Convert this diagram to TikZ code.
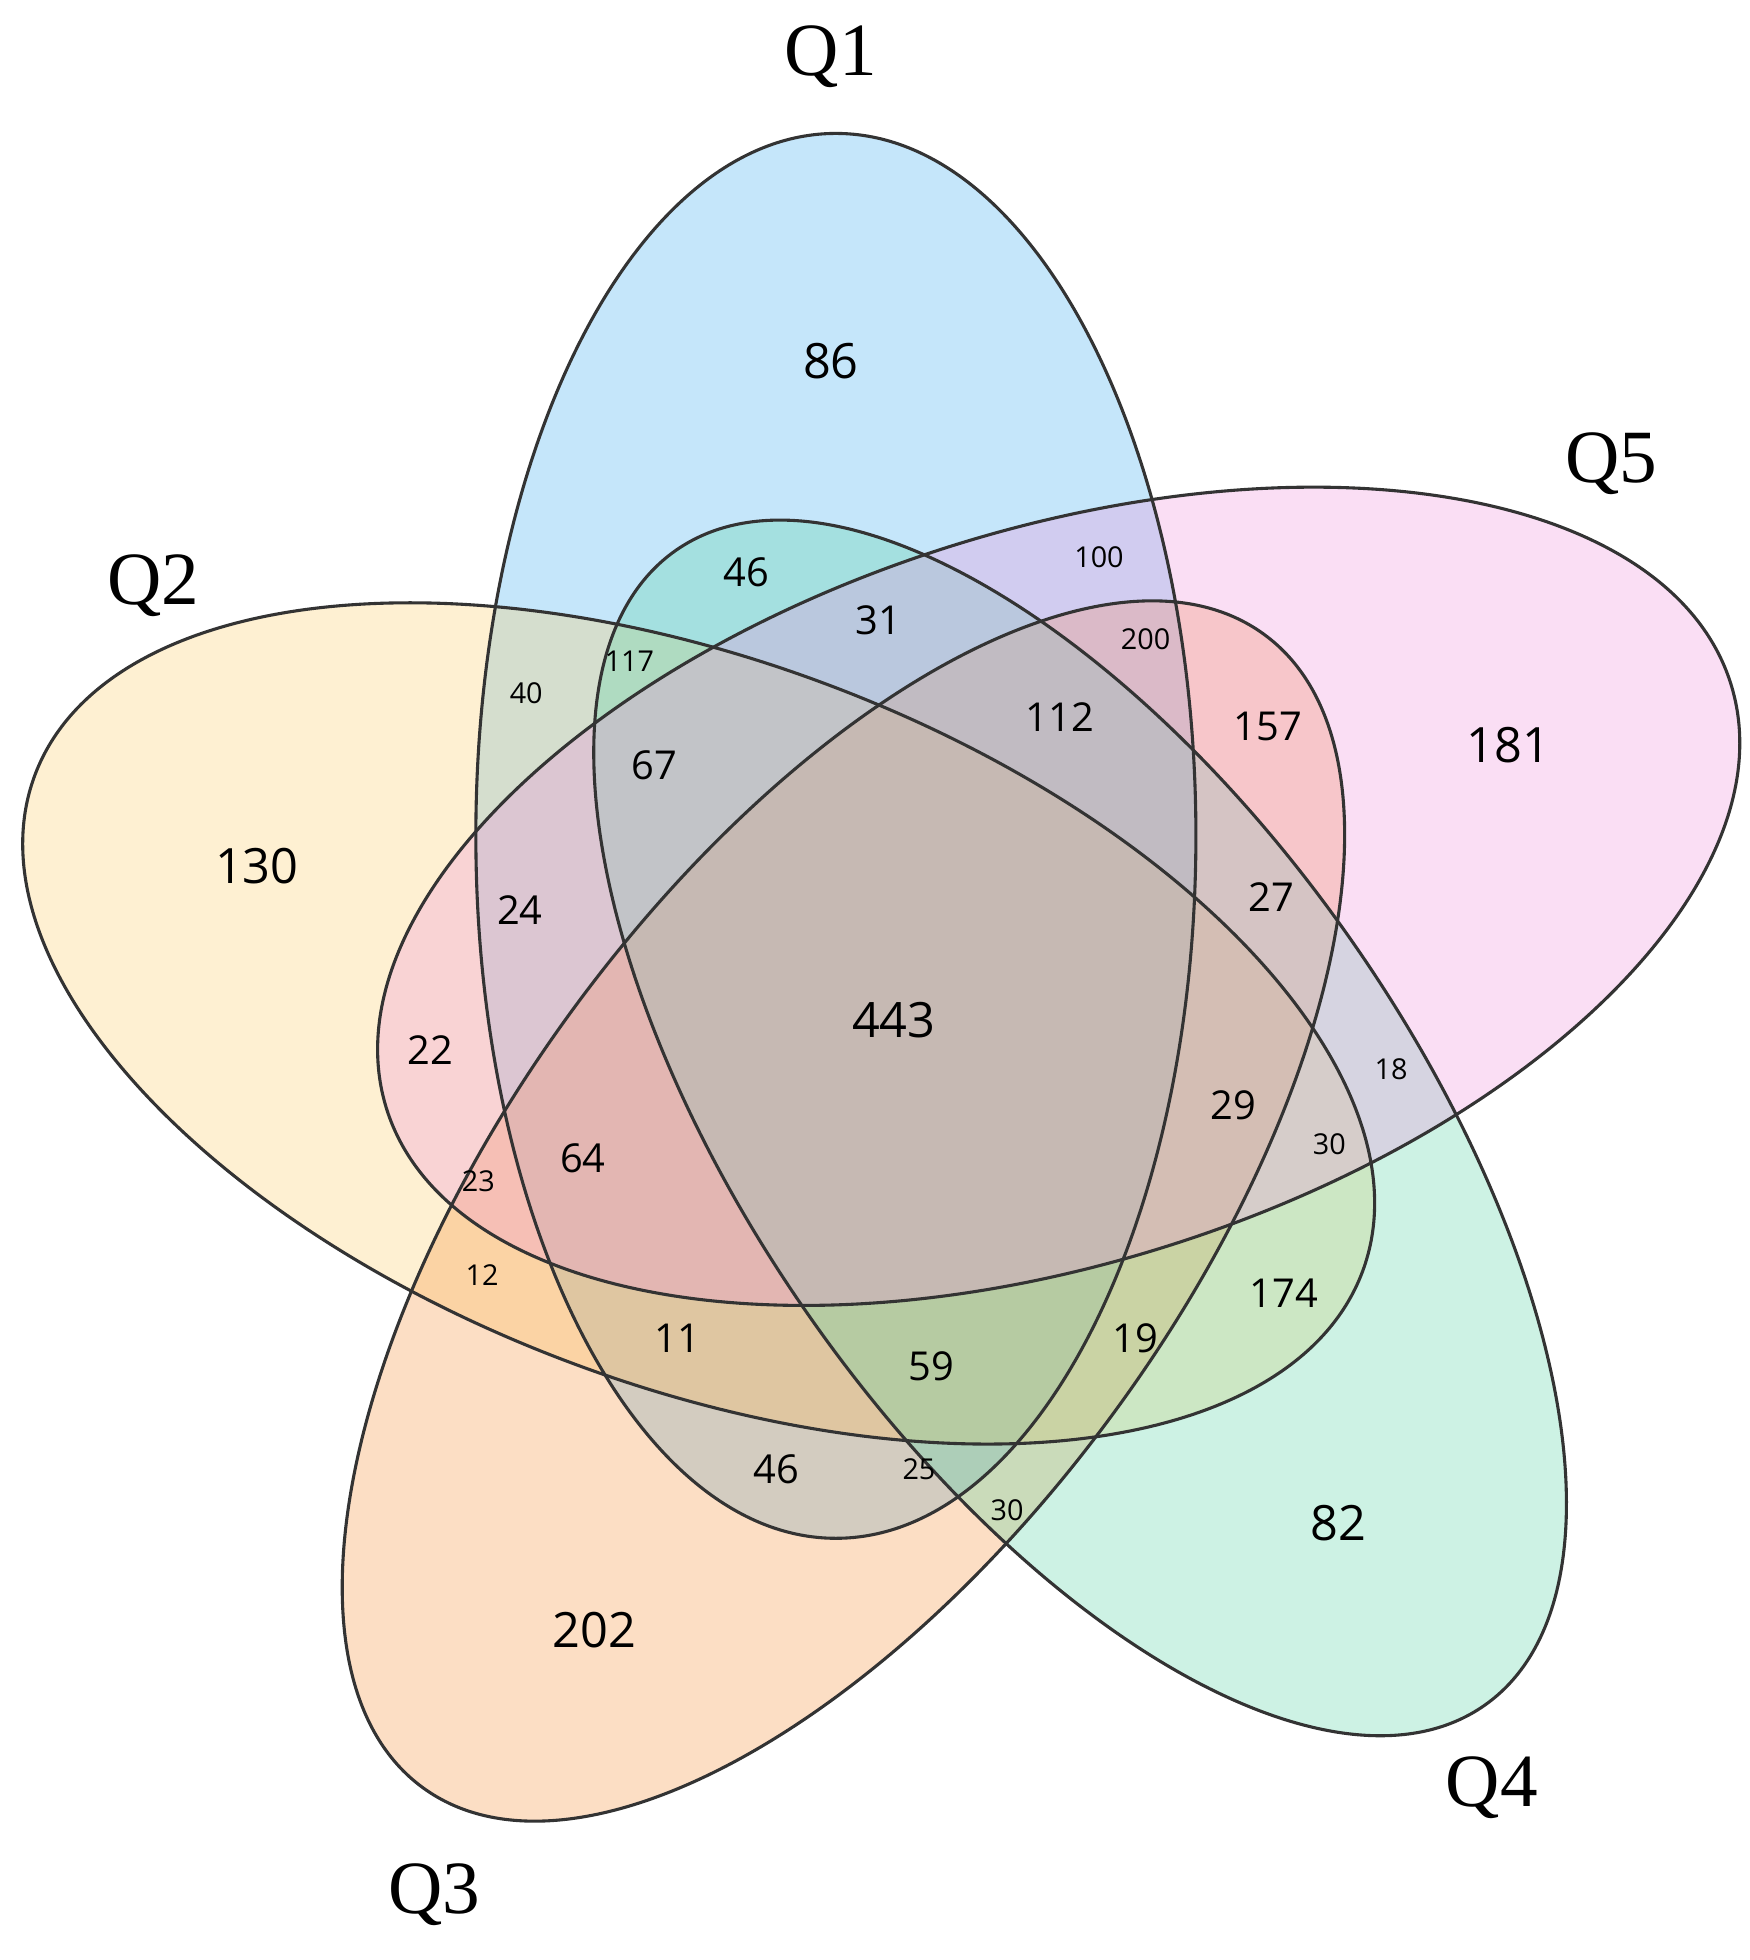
\documentclass[tikz,border=0pt]{standalone}
\usepackage{fontspec}
\setmainfont{Liberation Serif}
\newfontfamily\numf{Open Sans}
\begin{document}
\begin{tikzpicture}
\useasboundingbox (0,0) rectangle (13.90,-15.57);
\definecolor{cQa}{RGB}{62,172,238}
\definecolor{cQb}{RGB}{252,205,105}
\definecolor{cQc}{RGB}{245,145,60}
\definecolor{cQd}{RGB}{88,212,165}
\definecolor{cQe}{RGB}{238,145,218}
\tikzset{
  setfill/.style={fill=#1, fill opacity=0.3, draw=none},
  setline/.style={draw=black!80, line width=0.7pt},
  big/.style={font=\numf\fontsize{11}{13}\selectfont},
  med/.style={font=\numf\fontsize{9}{11}\selectfont},
  sml/.style={font=\numf\fontsize{6.5}{8}\selectfont},
  qlab/.style={font=\fontsize{17}{20}\selectfont}
}
\path[setfill=cQa] [rotate around={90:(6.64,-6.64)}] (6.64,-6.64) ellipse [x radius=5.58cm, y radius=2.86cm];
\path[setfill=cQb] [rotate around={-20.5:(5.55,-8.13)}] (5.55,-8.13) ellipse [x radius=5.63cm, y radius=2.88cm];
\path[setfill=cQc] [rotate around={53.9:(6.70,-9.62)}] (6.70,-9.62) ellipse [x radius=5.67cm, y radius=2.68cm];
\path[setfill=cQd] [rotate around={-55:(8.58,-8.96)}] (8.58,-8.96) ellipse [x radius=5.60cm, y radius=2.62cm];
\path[setfill=cQe] [rotate around={17.6:(8.41,-7.12)}] (8.41,-7.12) ellipse [x radius=5.60cm, y radius=2.91cm];
\draw[setline] [rotate around={90:(6.64,-6.64)}] (6.64,-6.64) ellipse [x radius=5.58cm, y radius=2.86cm];
\draw[setline] [rotate around={-20.5:(5.55,-8.13)}] (5.55,-8.13) ellipse [x radius=5.63cm, y radius=2.88cm];
\draw[setline] [rotate around={53.9:(6.70,-9.62)}] (6.70,-9.62) ellipse [x radius=5.67cm, y radius=2.68cm];
\draw[setline] [rotate around={-55:(8.58,-8.96)}] (8.58,-8.96) ellipse [x radius=5.60cm, y radius=2.62cm];
\draw[setline] [rotate around={17.6:(8.41,-7.12)}] (8.41,-7.12) ellipse [x radius=5.60cm, y radius=2.91cm];
% set labels
\node[qlab] (q1) at (6.60,-0.45) {Q1};
\node[qlab] (q2) at (1.22,-4.65) {Q2};
\node[qlab] (q3) at (3.45,-15.05) {Q3};
\node[qlab] (q4) at (11.85,-14.20) {Q4};
\node[qlab] (q5) at (12.80,-3.68) {Q5};
% counts
\node[big] (n86) at (6.60,-2.87) {86};
\node[med] (n46a) at (5.93,-4.55) {46};
\node[sml] (n100) at (8.73,-4.43) {100};
\node[med] (n31) at (6.98,-4.93) {31};
\node[sml] (n200) at (9.10,-5.08) {200};
\node[sml] (n117) at (5.00,-5.25) {117};
\node[sml] (n40) at (4.18,-5.51) {40};
\node[med] (n112) at (8.42,-5.70) {112};
\node[med] (n157) at (10.07,-5.77) {157};
\node[big] (n181) at (11.98,-5.92) {181};
\node[med] (n67) at (5.20,-6.08) {67};
\node[big] (n130) at (2.04,-6.88) {130};
\node[med] (n24) at (4.13,-7.23) {24};
\node[med] (n27) at (10.10,-7.13) {27};
\node[big] (n443) at (7.10,-8.10) {443};
\node[med] (n22) at (3.42,-8.34) {22};
\node[sml] (n18) at (11.05,-8.49) {18};
\node[med] (n29) at (9.80,-8.78) {29};
\node[sml] (n30a) at (10.56,-9.09) {30};
\node[med] (n64) at (4.63,-9.20) {64};
\node[sml] (n23) at (3.80,-9.38) {23};
\node[sml] (n12) at (3.83,-10.13) {12};
\node[med] (n174) at (10.20,-10.27) {174};
\node[med] (n11) at (5.38,-10.63) {11};
\node[med] (n59) at (7.40,-10.85) {59};
\node[med] (n19) at (9.02,-10.63) {19};
\node[med] (n46b) at (6.17,-11.67) {46};
\node[sml] (n25) at (7.30,-11.67) {25};
\node[sml] (n30b) at (8.00,-12.00) {30};
\node[big] (n82) at (10.63,-12.10) {82};
\node[big] (n202) at (4.72,-12.95) {202};
\end{tikzpicture}
\end{document}
